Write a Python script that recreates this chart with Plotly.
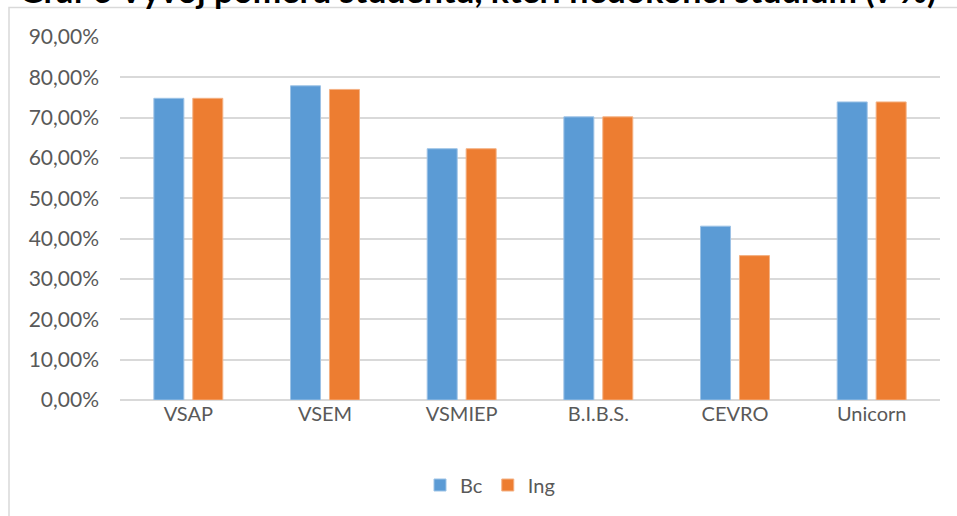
import plotly.graph_objects as go

categories = ["VSAP", "VSEM", "VSMIEP", "B.I.B.S.", "CEVRO", "Unicorn"]
bc_values = [0.748, 0.779, 0.623, 0.702, 0.431, 0.739]
ing_values = [0.748, 0.770, 0.623, 0.702, 0.358, 0.739]
title_text = "Graf 6 Vývoj poměru studentů, kteří nedokončí studium (v %)"

W, H = 957, 516
L, R, T, B = 120, 17, 37, 116
plot_h = H - T - B
plot_w = W - L - R

def px_x(x):
    return (x - L) / plot_w

def px_y(y):
    return (H - B - y) / plot_h

fig = go.Figure()
fig.add_trace(go.Bar(name="Bc", x=categories, y=bc_values,
                     marker=dict(color="#5B9BD5", line=dict(color="#9DC3E6", width=1))))
fig.add_trace(go.Bar(name="Ing", x=categories, y=ing_values,
                     marker=dict(color="#ED7D31", line=dict(color="#F4B183", width=1))))

fig.update_layout(
    width=W, height=H,
    margin=dict(l=L, r=R, t=T, b=B, autoexpand=False),
    paper_bgcolor="white", plot_bgcolor="white",
    separators=", ",
    barmode="group", bargap=0.43, bargroupgap=0.23,
    font=dict(family="Lato, 'Open Sans', sans-serif", color="#595959", size=20),
    showlegend=True,
    legend=dict(orientation="h", x=px_x(490), xanchor="center",
                y=px_y(485), yanchor="middle", font=dict(size=20, color="#595959"),
                itemwidth=30, traceorder="normal"),
    xaxis=dict(showgrid=False, showline=False, ticks="", automargin=False,
               tickangle=0, tickfont=dict(size=20, color="#595959")),
    yaxis=dict(range=[0, 0.9], dtick=0.1, tickformat=".2%", showgrid=True, automargin=False,
               gridcolor="#D9D9D9", gridwidth=1.5, zeroline=True, zerolinecolor="#D9D9D9",
               zerolinewidth=1.5, showline=False, ticks="", ticklabelstandoff=20,
               tickfont=dict(size=21, color="#595959")),
    shapes=[dict(type="rect", xref="paper", yref="paper",
                 x0=px_x(9), x1=px_x(975), y0=px_y(7.5), y1=px_y(530),
                 line=dict(color="#D9D9D9", width=1.5), fillcolor="rgba(0,0,0,0)", layer="below")],
    annotations=[dict(text="<b>" + title_text + "</b>", xref="paper", yref="paper",
                      x=px_x(477), y=px_y(12), xanchor="center", yanchor="bottom",
                      showarrow=False, font=dict(size=34, color="black",
                                                  family="Lato, 'Open Sans', sans-serif"))],
)

fig.write_html("out.html", config={"displayModeBar": False},
               post_script="document.body.style.margin='0';document.body.style.overflow='hidden';")
